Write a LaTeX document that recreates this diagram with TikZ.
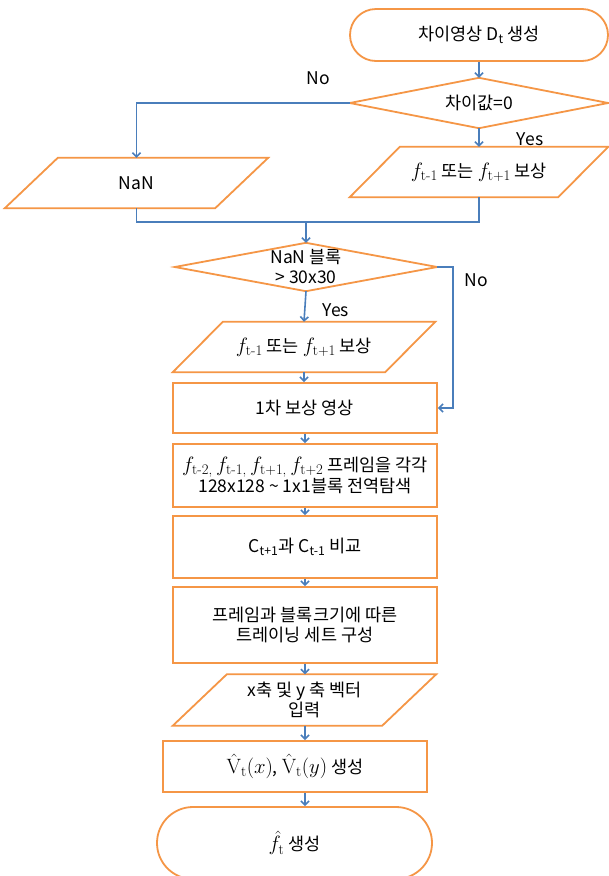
\documentclass[tikz,border=0pt]{standalone}
\usepackage{amsmath}
\usepackage[no-math]{fontspec}
\setmainfont{Noto Sans CJK KR}
\newfontfamily\lmrfam{Latin Modern Roman}
\newcommand\fsb[1]{\text{\lmrfam #1}}
\newcommand\mbg[1]{{\fontsize{21}{20}\selectfont$#1$}}
\usetikzlibrary{arrows.meta}
\definecolor{flowor}{RGB}{245,150,70}
\definecolor{flowbl}{RGB}{74,126,187}
\begin{document}
\begin{tikzpicture}[x=1pt,y=-1pt,
  font=\fontsize{17.5}{20}\selectfont,
  ghost/.style={inner sep=0pt, align=center, minimum width=#1},
  outl/.style={draw=flowor, line width=1.8pt, line join=miter},
  termbox/.style={outl, inner sep=0pt, align=center},
  procbox/.style={outl, inner sep=0pt, align=center, minimum width=264pt},
  conn/.style={draw=flowbl, line width=1.6pt},
  arr/.style={conn, -{Straight Barb[length=4pt,width=8pt]}},
  lbl/.style={inner sep=0pt}]
\useasboundingbox (0,0) rectangle (609,876);
\clip (0,0) rectangle (609,876);
\fill[white] (0,0) rectangle (609,876);

% terminal top
\node[termbox, minimum width=258pt, minimum height=52pt, rounded corners=26pt] (t1) at (479,35) {차이영상 D\textsubscript{t} 생성};
% decision 1
\node[ghost=258pt, minimum height=50pt] (d1) at (479,103) {차이값=0};
\draw[outl] (d1.west) -- (d1.north) -- (d1.east) -- (d1.south) -- cycle;
% NaN parallelogram
\node[ghost=263pt, minimum height=50pt] (p1) at (136.5,183) {NaN};
\draw[outl] ([xshift=53pt]p1.north west) -- (p1.north east) -- ([xshift=-53pt]p1.south east) -- (p1.south west) -- cycle;
% compensation parallelogram 1
\node[ghost=258pt, minimum height=50pt] (p2) at (479,172) {\mbg{f_{\fsb{t-1}}} 또는 \mbg{f_{\fsb{t+1}}} 보상};
\draw[outl] ([xshift=50pt]p2.north west) -- (p2.north east) -- ([xshift=-50pt]p2.south east) -- (p2.south west) -- cycle;
% decision 2
\node[ghost=262pt, minimum height=48pt] (d2) at (306,267) {NaN 블록\\> 30x30};
\draw[outl] (d2.west) -- (d2.north) -- (d2.east) -- (d2.south) -- cycle;
% compensation parallelogram 2
\node[ghost=262pt, minimum height=50pt] (p3) at (304,347) {\mbg{f_{\fsb{t-1}}} 또는 \mbg{f_{\fsb{t+1}}} 보상};
\draw[outl] ([xshift=50pt]p3.north west) -- (p3.north east) -- ([xshift=-50pt]p3.south east) -- (p3.south west) -- cycle;
% process boxes
\node[procbox, minimum height=50pt] (b1) at (305,408) {1차 보상 영상};
\node[procbox, minimum height=63pt] (b2) at (305,475.5) {\mbg{f_{\fsb{t-2,}}\,f_{\fsb{t-1,}}\,f_{\fsb{t+1,}}\,f_{\fsb{t+2}}} 프레임을 각각\\128x128 \textasciitilde\ 1x1블록 전역탐색};
\node[procbox, minimum height=62pt] (b3) at (305,547) {C\textsubscript{t+1}과 C\textsubscript{t-1} 비교};
\node[procbox, minimum height=76pt] (b4) at (305,625) {프레임과 블록크기에 따른\\트레이닝 세트 구성};
% input parallelogram
\node[ghost=263pt, minimum height=51pt] (p4) at (304.5,700) {x축 및 y 축 벡터\\입력};
\draw[outl] ([xshift=54pt]p4.north west) -- (p4.north east) -- ([xshift=-54pt]p4.south east) -- (p4.south west) -- cycle;
\node[procbox, minimum height=51pt] (b5) at (295,766.5) {\mbg{\hat{\mathrm{V}}_{\fsb{t}}(x)},\ \mbg{\hat{\mathrm{V}}_{\fsb{t}}(y)} 생성};
% terminal bottom
\node[termbox, minimum width=275pt, minimum height=72pt, rounded corners=36pt] (t2) at (294.5,843) {\mbg{\hat{f}_{\fsb{t}}} 생성};

% labels
\node[lbl] (no1) at (318,78) {No};
\node[lbl] (yes1) at (530,139) {Yes};
\node[lbl] (no2) at (476,280) {No};
\node[lbl] (yes2) at (336,310) {Yes};

% connectors
\draw[arr] (t1.south) -- (d1.north);
\draw[arr] (d1.west) -| (p1.north);
\draw[arr] (d1.south) -- (p2.north);
\coordinate (j) at (306,222);
\draw[conn] (p2.south) |- (j);
\draw[conn] (p1.south) |- (j);
\draw[arr] (j) -- (d2.north);
\draw[arr] (d2.south) -- (p3.north);
\draw[arr] (d2.east) -- ++(16,0) |- (b1.east);
\draw[arr] (p3.south) -- (p3.south |- b1.north);
\draw[arr] (b1.south) -- (b2.north);
\draw[arr] (b2.south) -- (b3.north);
\draw[arr] (b3.south) -- (b4.north);
\draw[arr] (b4.south) -- (b4.south |- p4.north);
\draw[arr] (p4.south -| b4.south) -- (b4.south |- b5.north);
\draw[arr] (b5.south -| b4.south) -- (b4.south |- t2.north);
\end{tikzpicture}
\end{document}
